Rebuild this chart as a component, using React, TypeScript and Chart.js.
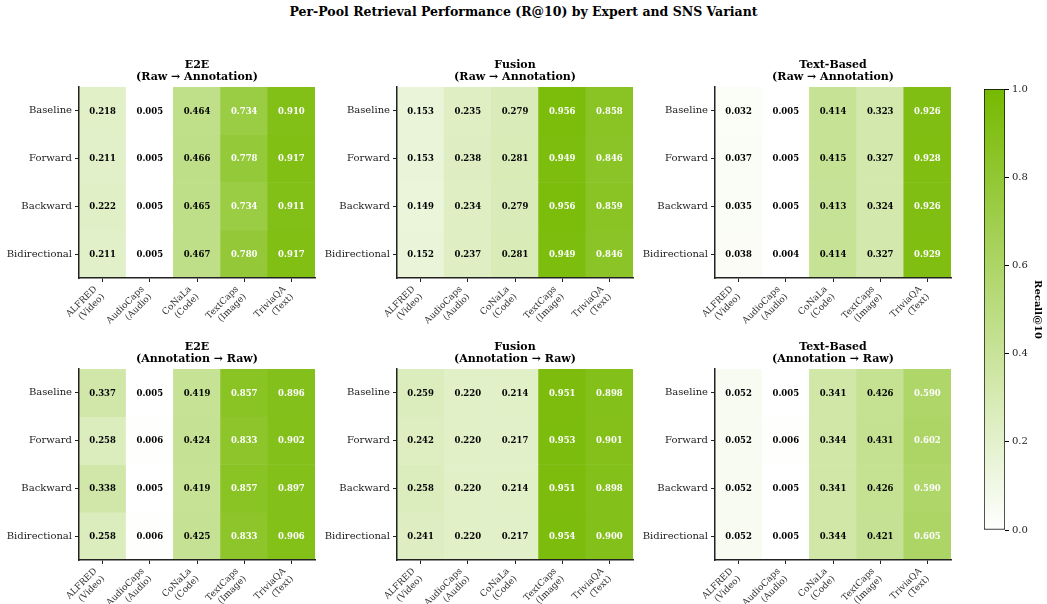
import React, { useEffect, useRef } from "react";
import { Chart, registerables } from "chart.js";

Chart.register(...registerables);

const FONT = "'DejaVu Serif', serif";

// ---------- data ----------
const ROWS = ["Baseline", "Forward", "Backward", "Bidirectional"];
const COLUMNS = [
  ["ALFRED", "(Video)"],
  ["AudioCaps", "(Audio)"],
  ["CoNaLa", "(Code)"],
  ["TextCaps", "(Image)"],
  ["TriviaQA", "(Text)"],
];
const COLORBAR_TICKS = [0, 0.2, 0.4, 0.6, 0.8, 1.0];
const COLORBAR_RANGE = [0, 1];

const E2E_RAW_TO_ANN = [
  [0.218, 0.005, 0.464, 0.734, 0.91],
  [0.211, 0.005, 0.466, 0.778, 0.917],
  [0.222, 0.005, 0.465, 0.734, 0.911],
  [0.211, 0.005, 0.467, 0.78, 0.917],
];
const FUSION_RAW_TO_ANN = [
  [0.153, 0.235, 0.279, 0.956, 0.858],
  [0.153, 0.238, 0.281, 0.949, 0.846],
  [0.149, 0.234, 0.279, 0.956, 0.859],
  [0.152, 0.237, 0.281, 0.949, 0.846],
];
const TEXT_RAW_TO_ANN = [
  [0.032, 0.005, 0.414, 0.323, 0.926],
  [0.037, 0.005, 0.415, 0.327, 0.928],
  [0.035, 0.005, 0.413, 0.324, 0.926],
  [0.038, 0.004, 0.414, 0.327, 0.929],
];
const E2E_ANN_TO_RAW = [
  [0.337, 0.005, 0.419, 0.857, 0.896],
  [0.258, 0.006, 0.424, 0.833, 0.902],
  [0.338, 0.005, 0.419, 0.857, 0.897],
  [0.258, 0.006, 0.425, 0.833, 0.906],
];
const FUSION_ANN_TO_RAW = [
  [0.259, 0.22, 0.214, 0.951, 0.898],
  [0.242, 0.22, 0.217, 0.953, 0.901],
  [0.258, 0.22, 0.214, 0.951, 0.898],
  [0.241, 0.22, 0.217, 0.954, 0.9],
];
const TEXT_ANN_TO_RAW = [
  [0.052, 0.005, 0.341, 0.426, 0.59],
  [0.052, 0.006, 0.344, 0.431, 0.602],
  [0.052, 0.005, 0.341, 0.426, 0.59],
  [0.052, 0.005, 0.344, 0.421, 0.605],
];

const PANELS = [
  { title: ["E2E", "(Raw → Annotation)"], values: E2E_RAW_TO_ANN },
  { title: ["Fusion", "(Raw → Annotation)"], values: FUSION_RAW_TO_ANN },
  { title: ["Text-Based", "(Raw → Annotation)"], values: TEXT_RAW_TO_ANN },
  { title: ["E2E", "(Annotation → Raw)"], values: E2E_ANN_TO_RAW },
  { title: ["Fusion", "(Annotation → Raw)"], values: FUSION_ANN_TO_RAW },
  { title: ["Text-Based", "(Annotation → Raw)"], values: TEXT_ANN_TO_RAW },
];

// ---------- layout / style ----------
const PLOT_LEFT = [79, 397, 715];
const PLOT_TOP = [87, 369];
const PLOT_W = 236;
const PLOT_H = 191;
const LOW = [255, 255, 255];
const HIGH = [118, 185, 0];

function cmap(v: number): string {
  const t = Math.max(0, Math.min(1, v));
  const c = LOW.map((l, i) => Math.round(l + (HIGH[i] - l) * t));
  return `rgb(${c[0]},${c[1]},${c[2]})`;
}

function Heatmap({ title, values, left, top }: { title: string[]; values: number[][]; left: number; top: number }) {
  const ref = useRef<HTMLCanvasElement>(null);
  const padL = 80, padT = 40, padR = 6, padB = 75;
  const cw = padL + PLOT_W + padR;
  const ch = padT + PLOT_H + padB;
  useEffect(() => {
    const labelPlugin = {
      id: "cellLabels",
      afterDatasetsDraw(chart: any) {
        const ctx = chart.ctx;
        ctx.save();
        ctx.font = `bold 8.5px ${FONT}`;
        ctx.textAlign = "center";
        ctx.textBaseline = "middle";
        chart.data.datasets.forEach((_ds: any, r: number) => {
          const meta = chart.getDatasetMeta(r);
          meta.data.forEach((el: any, c: number) => {
            const v = values[r][c];
            ctx.fillStyle = v > 0.5 ? "#ffffff" : "#000000";
            ctx.fillText(v.toFixed(3), el.x, (el.y + el.base) / 2 + 0.5);
          });
        });
        const { left: l, right: rr, top: t } = chart.chartArea;
        ctx.font = `bold 11px ${FONT}`;
        ctx.fillStyle = "#000000";
        ctx.fillText(title[0], (l + rr) / 2, t - 22);
        ctx.fillText(title[1], (l + rr) / 2, t - 10);
        ctx.restore();
      },
    };
    const chart = new Chart(ref.current as HTMLCanvasElement, {
      type: "bar",
      data: {
        labels: COLUMNS as any,
        datasets: ROWS.map((row, r) => ({
          label: row,
          data: COLUMNS.map(() => [r, r + 1]) as any,
          backgroundColor: values[r].map(cmap),
          borderWidth: 0,
          barPercentage: 1,
          categoryPercentage: 1,
          grouped: false,
        })),
      },
      options: {
        responsive: false,
        animation: false,
        devicePixelRatio: 1,
        layout: { padding: { top: padT, right: padR, left: 0, bottom: 0 } },
        plugins: { legend: { display: false }, tooltip: { enabled: false }, title: { display: false } },
        scales: {
          x: {
            type: "category",
            offset: true,
            grid: { offset: false, drawOnChartArea: false, drawTicks: true, tickLength: 4, color: "#222" },
            border: { display: true, color: "#222", width: 1.5, z: 1 },
            ticks: {
              font: { family: FONT, size: 9 },
              color: "#333",
              minRotation: 45,
              maxRotation: 45,
              padding: 2,
              labelOffset: -7,
              autoSkip: false,
            },
            afterFit: (s: any) => {
              s.height = padB;
              s.paddingLeft = 0;
              s.paddingRight = 0;
            },
          },
          y: {
            type: "linear",
            min: 0,
            max: ROWS.length,
            reverse: true,
            afterBuildTicks: (s: any) => {
              s.ticks = ROWS.map((_, i) => ({ value: i + 0.5 }));
            },
            ticks: {
              callback: (v: any) => ROWS[Math.floor(Number(v))],
              font: { family: FONT, size: 10 },
              color: "#222",
              padding: 3,
            },
            grid: { drawOnChartArea: false, drawTicks: true, tickLength: 4, color: "#222" },
            border: { display: true, color: "#222", width: 1.5, z: 1 },
            afterFit: (s: any) => {
              s.width = padL;
              s.paddingTop = 0;
              s.paddingBottom = 0;
            },
          },
        },
      } as any,
      plugins: [labelPlugin],
    });
    return () => chart.destroy();
  }, []);
  return (
    <canvas
      ref={ref}
      width={cw}
      height={ch}
      style={{ position: "absolute", left: left - padL, top: top - padT, width: cw, height: ch }}
    />
  );
}

function ColorBar() {
  const ref = useRef<HTMLCanvasElement>(null);
  const cw = 107, ch = 470;
  useEffect(() => {
    const labelPlugin = {
      id: "cbarLabel",
      afterDraw(chart: any) {
        const ctx = chart.ctx;
        const { top, bottom } = chart.chartArea;
        ctx.save();
        ctx.translate(98, (top + bottom) / 2);
        ctx.rotate(Math.PI / 2);
        ctx.font = `bold 10px ${FONT}`;
        ctx.fillStyle = "#000";
        ctx.textAlign = "center";
        ctx.textBaseline = "middle";
        ctx.fillText("Recall@10", 0, 0);
        ctx.restore();
      },
    };
    const chart = new Chart(ref.current as HTMLCanvasElement, {
      type: "bar",
      data: {
        labels: [""],
        datasets: [
          {
            data: [COLORBAR_RANGE] as any,
            backgroundColor: (c: any) => {
              const ca = c.chart.chartArea;
              if (!ca) return cmap(1);
              const g = c.chart.ctx.createLinearGradient(0, ca.bottom, 0, ca.top);
              g.addColorStop(0, cmap(0));
              g.addColorStop(1, cmap(1));
              return g;
            },
            borderColor: "#000",
            borderWidth: 1,
            borderSkipped: false,
            barPercentage: 1,
            categoryPercentage: 1,
          },
        ],
      },
      options: {
        responsive: false,
        animation: false,
        devicePixelRatio: 1,
        layout: { padding: { left: 44, top: 9, bottom: 20, right: 0 } },
        plugins: { legend: { display: false }, tooltip: { enabled: false } },
        scales: {
          x: { display: false },
          y: {
            position: "right",
            min: COLORBAR_RANGE[0],
            max: COLORBAR_RANGE[1],
            afterBuildTicks: (s: any) => {
              s.ticks = COLORBAR_TICKS.map((v) => ({ value: v }));
            },
            ticks: {
              callback: (v: any) => Number(v).toFixed(1),
              font: { family: FONT, size: 10 },
              color: "#222",
              padding: 3,
            },
            grid: { drawOnChartArea: false, drawTicks: true, tickLength: 4, color: "#000" },
            border: { display: false },
            afterFit: (s: any) => {
              s.width = 42;
              s.paddingTop = 0;
              s.paddingBottom = 0;
            },
          },
        },
      } as any,
      plugins: [labelPlugin],
    });
    return () => chart.destroy();
  }, []);
  return (
    <canvas
      ref={ref}
      width={cw}
      height={ch}
      style={{ position: "absolute", left: 940, top: 80, width: cw, height: ch }}
    />
  );
}

export default function App() {
  return (
    <div
      style={{
        position: "fixed",
        left: 0,
        top: 0,
        width: 1047,
        height: 604,
        background: "#fff",
        overflow: "hidden",
      }}
    >
      <div
        style={{
          position: "absolute",
          left: 0,
          top: 4,
          width: 1047,
          textAlign: "center",
          fontFamily: FONT,
          fontWeight: "bold",
          fontSize: 12.5,
          lineHeight: "16px",
          color: "#000",
        }}
      >
        Per-Pool Retrieval Performance (R@10) by Expert and SNS Variant
      </div>
      {PANELS.map((p, i) => (
        <Heatmap
          key={i}
          title={p.title}
          values={p.values}
          left={PLOT_LEFT[i % 3]}
          top={PLOT_TOP[Math.floor(i / 3)]}
        />
      ))}
      <ColorBar />
    </div>
  );
}
